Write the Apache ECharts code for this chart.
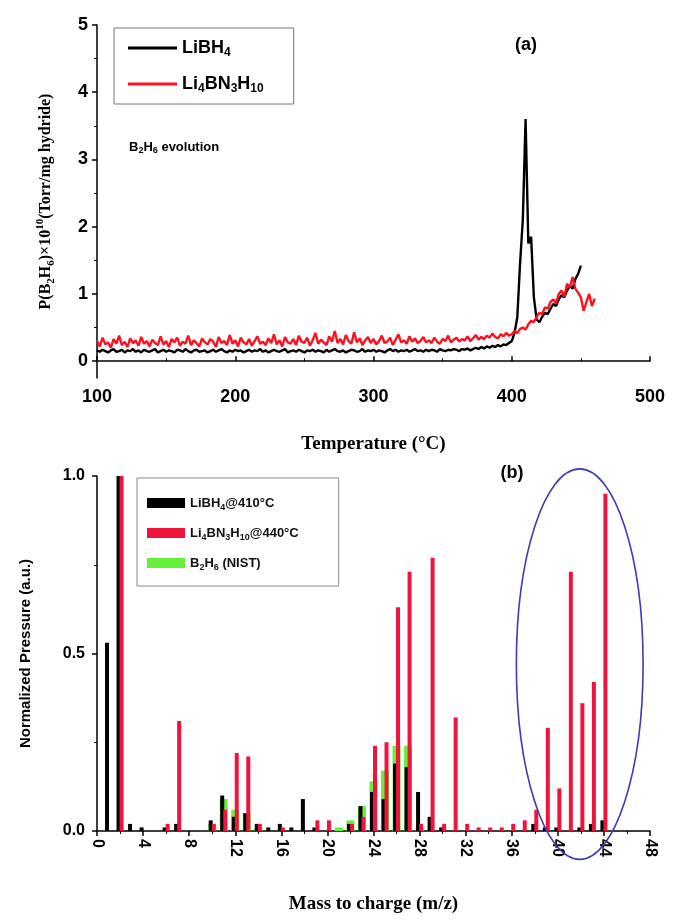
<!DOCTYPE html>
<html>
<head>
<meta charset="utf-8">
<script src="https://cdn.jsdelivr.net/npm/echarts@6/dist/echarts.min.js"></script>
<style>
  html, body { margin: 0; padding: 0; background: #fff; }
  #chart { width: 674px; height: 920px; }
</style>
</head>
<body>
<div id="chart"></div>
<script>
// Temperature scan (°C), 2 °C sampling
const temperature = [100,102,104,106,108,110,112,114,116,118,120,122,124,126,128,130,132,134,136,138,
  140,142,144,146,148,150,152,154,156,158,160,162,164,166,168,170,172,174,176,178,
  180,182,184,186,188,190,192,194,196,198,200,202,204,206,208,210,212,214,216,218,
  220,222,224,226,228,230,232,234,236,238,240,242,244,246,248,250,252,254,256,258,
  260,262,264,266,268,270,272,274,276,278,280,282,284,286,288,290,292,294,296,298,
  300,302,304,306,308,310,312,314,316,318,320,322,324,326,328,330,332,334,336,338,
  340,342,344,346,348,350,352,354,356,358,360,362,364,366,368,370,372,374,376,378,
  380,382,384,386,388,390,392,394,396,398,400,402,404,406,408,410,412,414,416,418,
  420,422,424,426,428,430,432,434,436,438,440,442,444,446,448,450,452,454,456,458,460];

// B2H6 partial pressure (x1e10 Torr/mg hydride) — LiBH4, 100..450 °C
const libh4Pressure = [
  0.16,0.14,0.17,0.15,0.13,0.16,0.18,0.14,0.15,0.17,0.13,0.16,0.15,0.18,0.14,0.16,0.13,0.17,0.15,0.14,
  0.16,0.18,0.13,0.15,0.17,0.14,0.16,0.15,0.13,0.17,0.16,0.14,0.18,0.15,0.13,0.16,0.17,0.14,0.15,0.16,
  0.13,0.15,0.17,0.14,0.16,0.18,0.15,0.13,0.16,0.14,0.17,0.15,0.16,0.13,0.15,0.17,0.14,0.16,0.15,0.18,
  0.14,0.16,0.13,0.15,0.17,0.15,0.14,0.16,0.18,0.13,0.15,0.16,0.14,0.17,0.15,0.13,0.16,0.15,0.17,0.14,
  0.16,0.15,0.13,0.17,0.14,0.16,0.18,0.15,0.14,0.16,0.13,0.15,0.17,0.16,0.14,0.15,0.18,0.14,0.16,0.15,
  0.17,0.14,0.16,0.15,0.13,0.16,0.18,0.15,0.17,0.14,0.16,0.15,0.17,0.14,0.16,0.18,0.15,0.16,0.14,0.17,
  0.15,0.17,0.16,0.14,0.18,0.16,0.15,0.17,0.16,0.18,0.17,0.15,0.18,0.17,0.19,0.16,0.18,0.20,0.18,0.21,
  0.19,0.22,0.20,0.23,0.21,0.24,0.22,0.25,0.24,0.27,
  0.30,0.42,0.65,1.45,2.10,3.60,1.75,1.85,0.95,0.62,
  0.58,0.66,0.72,0.70,0.78,0.85,0.82,0.92,0.98,0.95,1.05,1.12,1.08,1.22,1.30,1.42];

// B2H6 partial pressure — Li4BN3H10, 100..460 °C
const li4bn3h10Pressure = [
  0.30,0.22,0.35,0.25,0.28,0.20,0.33,0.26,0.38,0.24,0.29,0.21,0.34,0.27,0.31,0.23,0.36,0.26,0.30,0.22,
  0.32,0.27,0.24,0.37,0.25,0.30,0.21,0.33,0.28,0.35,0.23,0.29,0.26,0.38,0.24,0.31,0.27,0.22,0.34,0.28,
  0.25,0.33,0.29,0.21,0.36,0.27,0.30,0.24,0.39,0.26,0.31,0.22,0.35,0.28,0.25,0.33,0.23,0.30,0.37,0.26,
  0.29,0.24,0.34,0.27,0.40,0.25,0.31,0.22,0.36,0.28,0.26,0.33,0.24,0.38,0.29,0.27,0.35,0.23,0.31,0.42,
  0.26,0.32,0.28,0.24,0.37,0.29,0.45,0.27,0.33,0.25,0.39,0.30,0.26,0.43,0.28,0.34,0.24,0.31,0.36,0.27,
  0.33,0.25,0.30,0.38,0.27,0.29,0.35,0.24,0.32,0.40,0.28,0.31,0.26,0.37,0.29,0.34,0.27,0.30,0.36,0.28,
  0.31,0.27,0.35,0.29,0.26,0.33,0.30,0.38,0.28,0.32,0.35,0.29,0.33,0.31,0.37,0.30,0.34,0.39,0.32,0.36,
  0.33,0.38,0.35,0.41,0.36,0.34,0.40,0.37,0.42,0.38,
  0.40,0.45,0.42,0.48,0.50,0.47,0.55,0.60,0.58,0.66,
  0.72,0.70,0.80,0.78,0.88,0.92,0.86,1.00,1.05,0.96,1.15,1.10,1.25,1.08,1.02,0.95,0.75,0.88,1.00,0.82,0.93];

// Mass spectra: [m/z, normalized pressure]
const libh4Spectrum = [[1,0.53],[2,1.0],[3,0.02],[4,0.01],[6,0.01],[7,0.02],[10,0.03],[11,0.10],[12,0.04],
  [13,0.05],[14,0.02],[15,0.01],[16,0.02],[17,0.01],[18,0.09],[19,0.01],[22,0.02],[23,0.07],[24,0.11],
  [25,0.09],[26,0.19],[27,0.18],[28,0.11],[29,0.04],[30,0.01],[38,0.02],[39,0.01],[40,0.01],[42,0.01],
  [43,0.02],[44,0.03]];
const li4bn3h10Spectrum = [[2,1.0],[6,0.02],[7,0.31],[10,0.02],[11,0.06],[12,0.22],[13,0.21],[14,0.02],
  [16,0.01],[19,0.03],[20,0.03],[22,0.02],[23,0.04],[24,0.24],[25,0.25],[26,0.63],[27,0.73],[28,0.02],
  [29,0.77],[30,0.02],[31,0.32],[32,0.02],[33,0.01],[34,0.01],[35,0.01],[36,0.02],[37,0.03],[38,0.06],
  [39,0.29],[40,0.12],[41,0.73],[42,0.36],[43,0.42],[44,0.95]];
const b2h6Nist = [[10,0.02],[11,0.09],[12,0.06],[13,0.05],[14,0.01],[21,0.01],[22,0.03],[23,0.07],
  [24,0.14],[25,0.17],[26,0.24],[27,0.24],[28,0.01]];

// Tick values
const pressureTicks = [0, 1, 2, 3, 4, 5];
const pressureMinorTicks = [0.5, 1.5, 2.5, 3.5, 4.5];

// Highlighted m/z region (data units): centre and half-axes
const highlightRegion = { mz: 41.9, p: 0.47, halfMz: 5.5, halfP: 0.55 };

const SANS = '"Liberation Sans", Arial, sans-serif';
const SERIF = '"Liberation Serif", "Times New Roman", serif';

function pairs(xs, ys) { return ys.map((v, i) => [xs[i], v]); }

const legendLabels = {
  'LiBH4': 'LiBH{s|4}',
  'Li4BN3H10': 'Li{s|4}BN{s|3}H{s|10}',
  'LiBH4@410°C': 'LiBH{s|4}@410°C',
  'Li4BN3H10@440°C': 'Li{s|4}BN{s|3}H{s|10}@440°C',
  'B2H6 (NIST)': 'B{s|2}H{s|6} (NIST)'
};

const axisLineStyle = { color: '#000', width: 1.5 };

const chart = echarts.init(document.getElementById('chart'), null, { renderer: 'canvas' });

const option = {
  animation: false,
  backgroundColor: '#fff',
  grid: [
    { left: 97, right: 24, top: 25, height: 353 },
    { left: 97, right: 24, top: 476, height: 355 }
  ],
  xAxis: [
    {
      gridIndex: 0, type: 'value', min: 100, max: 500, interval: 100,
      name: 'Temperature (°C)', nameLocation: 'middle', nameGap: 57,
      nameTextStyle: { fontFamily: SERIF, fontWeight: 'bold', fontSize: 19, color: '#000' },
      axisLine: { lineStyle: axisLineStyle },
      axisTick: { inside: true, length: 5, lineStyle: { color: '#000', width: 1.5 } },
      minorTick: { show: true, splitNumber: 2, length: 3, lineStyle: { color: '#000', width: 1 } },
      splitLine: { show: false },
      axisLabel: { fontFamily: SANS, fontWeight: 'bold', fontSize: 18, color: '#000', margin: 10 }
    },
    {
      gridIndex: 1, type: 'value', min: 0, max: 48, interval: 4,
      name: 'Mass to charge (m/z)', nameLocation: 'middle', nameGap: 64,
      nameTextStyle: { fontFamily: SERIF, fontWeight: 'bold', fontSize: 19, color: '#000' },
      axisLine: { lineStyle: axisLineStyle },
      axisTick: { length: 5, lineStyle: { color: '#000', width: 1.5 } },
      minorTick: { show: true, splitNumber: 2, length: 3, lineStyle: { color: '#000', width: 1 } },
      splitLine: { show: false },
      axisLabel: { fontFamily: SANS, fontWeight: 'bold', fontSize: 16, color: '#000', rotate: -90, margin: 8 }
    },
    { gridIndex: 1, type: 'value', min: 0, max: 48, show: false }
  ],
  yAxis: [
    {
      gridIndex: 0, type: 'value', position: 'left', min: -0.25, max: 5,
      name: 'P(B{s|2}H{s|6})×10{p|10}(Torr/mg hydride)', nameLocation: 'middle', nameGap: 40,
      nameTextStyle: {
        fontFamily: SERIF, fontWeight: 'bold', fontSize: 16, color: '#000', lineHeight: 22,
        rich: {
          s: { fontFamily: SERIF, fontWeight: 'bold', fontSize: 11, lineHeight: 12, verticalAlign: 'bottom', color: '#000' },
          p: { fontFamily: SERIF, fontWeight: 'bold', fontSize: 11, lineHeight: 12, verticalAlign: 'top', color: '#000' }
        }
      },
      axisLine: { show: true, lineStyle: axisLineStyle },
      axisTick: { show: true, length: 5, customValues: pressureTicks, lineStyle: { color: '#000', width: 1.5 } },
      splitLine: { show: false },
      axisLabel: { customValues: pressureTicks, fontFamily: SANS, fontWeight: 'bold', fontSize: 18, color: '#000', margin: 9 }
    },
    {
      gridIndex: 0, type: 'value', position: 'left', min: -0.25, max: 5,
      axisLine: { show: false },
      axisTick: { show: true, length: 3, customValues: pressureMinorTicks, lineStyle: { color: '#000', width: 1 } },
      axisLabel: { show: false },
      splitLine: { show: false }
    },
    {
      gridIndex: 1, type: 'value', position: 'left', min: 0, max: 1, interval: 0.5,
      name: 'Normalized Pressure (a.u.)', nameLocation: 'middle', nameGap: 64,
      nameTextStyle: { fontFamily: SANS, fontWeight: 'bold', fontSize: 15, color: '#000' },
      axisLine: { show: true, lineStyle: axisLineStyle },
      axisTick: { show: true, length: 5, lineStyle: { color: '#000', width: 1.5 } },
      minorTick: { show: true, splitNumber: 2, length: 3, lineStyle: { color: '#000', width: 1 } },
      splitLine: { show: false },
      axisLabel: { fontFamily: SANS, fontWeight: 'bold', fontSize: 16, color: '#000', margin: 12,
        formatter: v => v.toFixed(1) }
    }
  ],
  legend: [
    {
      data: ['LiBH4', 'Li4BN3H10'],
      orient: 'vertical', left: 114, top: 28,
      padding: [9, 30, 9, 14], itemGap: 14, itemWidth: 49, itemHeight: 3, icon: 'rect',
      borderColor: '#777', borderWidth: 1,
      formatter: n => legendLabels[n],
      textStyle: {
        fontFamily: SANS, fontWeight: 'bold', fontSize: 18, color: '#000', lineHeight: 22,
        rich: { s: { fontFamily: SANS, fontWeight: 'bold', fontSize: 12, lineHeight: 13, verticalAlign: 'bottom', color: '#000' } }
      }
    },
    {
      data: ['LiBH4@410°C', 'Li4BN3H10@440°C', 'B2H6 (NIST)'],
      orient: 'vertical', left: 137, top: 478,
      padding: [16, 40, 14, 10], itemGap: 12, itemWidth: 38, itemHeight: 10, icon: 'rect',
      borderColor: '#888', borderWidth: 1,
      formatter: n => legendLabels[n],
      textStyle: {
        fontFamily: SANS, fontWeight: 'bold', fontSize: 13, color: '#111', lineHeight: 18,
        rich: { s: { fontFamily: SANS, fontWeight: 'bold', fontSize: 9, lineHeight: 10, verticalAlign: 'bottom', color: '#111' } }
      }
    }
  ],
  series: [
    {
      name: 'LiBH4', type: 'line', xAxisIndex: 0, yAxisIndex: 0,
      data: pairs(temperature, libh4Pressure), showSymbol: false, symbol: 'none',
      lineStyle: { color: '#000', width: 2.4 }, itemStyle: { color: '#000' }
    },
    {
      name: 'Li4BN3H10', type: 'line', xAxisIndex: 0, yAxisIndex: 0,
      data: pairs(temperature, li4bn3h10Pressure), showSymbol: false, symbol: 'none',
      lineStyle: { color: '#ff1020', width: 2.4 }, itemStyle: { color: '#ff1020' }
    },
    {
      name: 'B2H6 (NIST)', type: 'bar', xAxisIndex: 2, yAxisIndex: 2,
      data: b2h6Nist, barWidth: 8, itemStyle: { color: '#66f03c' }
    },
    {
      name: 'LiBH4@410°C', type: 'bar', xAxisIndex: 1, yAxisIndex: 2,
      data: libh4Spectrum, barWidth: 4, barGap: '-25%', itemStyle: { color: '#000' }
    },
    {
      name: 'Li4BN3H10@440°C', type: 'bar', xAxisIndex: 1, yAxisIndex: 2,
      data: li4bn3h10Spectrum, barWidth: 4, barGap: '-25%', itemStyle: { color: '#f0143c' }
    }
  ],
  graphic: [
    {
      id: 'labelA', type: 'text', x: 526, y: 45,
      style: { text: '(a)', fontFamily: SANS, fontWeight: 'bold', fontSize: 18, fill: '#000', align: 'center', verticalAlign: 'middle' }
    },
    {
      id: 'evolution', type: 'text', x: 129, y: 147,
      style: {
        text: 'B{s|2}H{s|6} evolution', fontFamily: SANS, fontWeight: 'bold', fontSize: 13, fill: '#000',
        verticalAlign: 'middle', lineHeight: 16,
        rich: { s: { fontFamily: SANS, fontWeight: 'bold', fontSize: 9, lineHeight: 10, verticalAlign: 'bottom', fill: '#000' } }
      }
    },
    {
      id: 'labelB', type: 'text', x: 512, y: 473,
      style: { text: '(b)', fontFamily: SANS, fontWeight: 'bold', fontSize: 18, fill: '#000', align: 'center', verticalAlign: 'middle' }
    }
  ]
};

chart.setOption(option);

// Outline around the m/z 37–47 region, placed through the axis scales
const spec = { xAxisIndex: 1, yAxisIndex: 2 };
const c = chart.convertToPixel(spec, [highlightRegion.mz, highlightRegion.p]);
const e = chart.convertToPixel(spec, [highlightRegion.mz + highlightRegion.halfMz, highlightRegion.p + highlightRegion.halfP]);
chart.setOption({
  graphic: [{
    id: 'region', type: 'ellipse', z: 10,
    shape: { cx: c[0], cy: c[1], rx: Math.abs(e[0] - c[0]), ry: Math.abs(c[1] - e[1]) },
    style: { fill: null, stroke: '#3c3cb4', lineWidth: 1.6 }
  }]
});
</script>
</body>
</html>
